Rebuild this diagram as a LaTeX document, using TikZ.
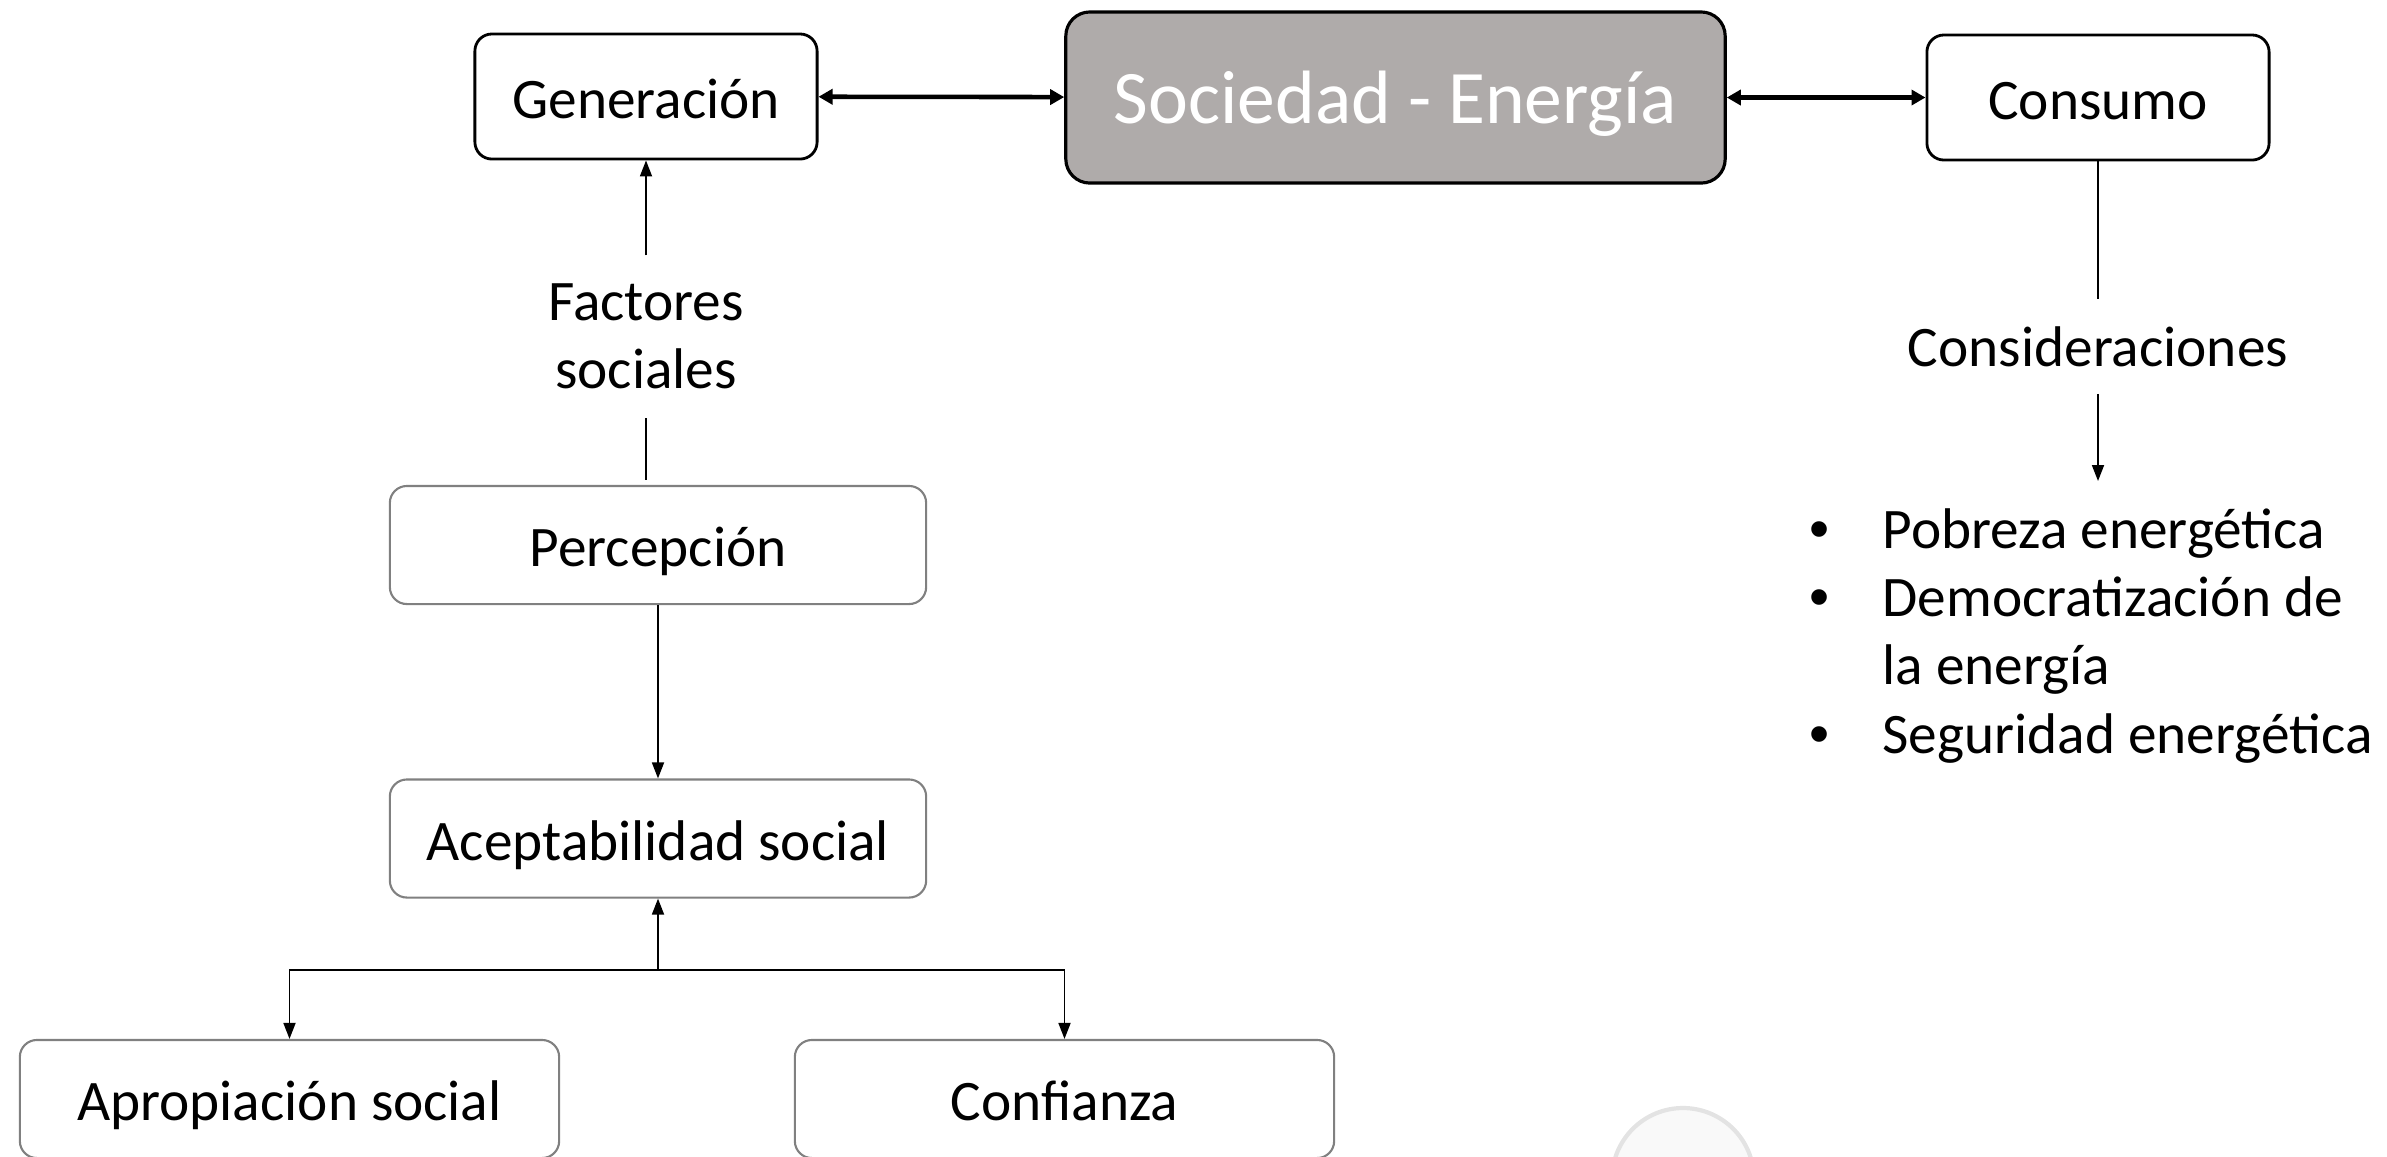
\documentclass[tikz,border=0pt]{standalone}
\usepackage{fontspec}
\setmainfont{Carlito}
\newfontfamily\bulletfont{Liberation Sans}
\usetikzlibrary{arrows.meta}
\definecolor{boxgray}{RGB}{128,128,128}
\definecolor{socgray}{RGB}{175,171,170}
\newcommand{\itembullet}{\makebox[0.73cm][l]{\bulletfont •}}

\begin{document}
\begin{tikzpicture}[x=0.01cm,y=-0.01cm,
  every node/.style={font=\fontsize{16.3}{19.4}\selectfont},
  box/.style={draw, line width=0.8pt, rounded corners=0.17cm, minimum width=3.42cm, minimum height=1.25cm,
    text height=0.45cm, text depth=0.02cm},
  softbox/.style={draw=boxgray, line width=0.6pt, rounded corners=0.17cm, minimum width=5.36cm, minimum height=1.18cm,
    text height=0.45cm, text depth=0.02cm},
  link/.style={line width=0.5pt, -{Triangle[length=0.16cm,width=0.12cm]}},
  biglink/.style={line width=1.3pt, {Triangle[length=0.14cm,width=0.15cm]}-{Triangle[length=0.14cm,width=0.15cm]}}]
\useasboundingbox (0,0) rectangle (2387,1156);

% top row
\node[box] (gen) at (646,96.5) {Generación};
\node[draw, line width=0.9pt, rounded corners=0.24cm, fill=socgray, text=white,
  minimum width=6.59cm, minimum height=1.71cm, text height=0.55cm, text depth=0.03cm,
  font=\fontsize{21.5}{26}\selectfont] (soc) at (1395.5,97.5) {Sociedad - Energía};
\node[box] (cons) at (2098,97.5) {Consumo};

\draw[biglink] (gen) -- (soc);
\draw[biglink] (soc) -- (cons);

% left column
\node[align=center, minimum height=1.61cm] (fact) at (646,336.5) {Factores\\sociales};
\node[softbox] (perc) at (658,545) {Percepción};
\node[softbox] (acep) at (658,838.5) {Aceptabilidad social};
\node[softbox, minimum width=5.39cm] (apro) at (289.5,1099) {Apropiación social};
\node[softbox, minimum width=5.39cm] (conf) at (1064.5,1099) {Confianza};
\coordinate (split) at (658,970);

\draw[link] (fact) -- (gen);
\draw[line width=0.5pt, shorten <=0.05cm] (fact.south |- perc.north) -- (fact.south);
\draw[link] (perc) -- (acep);
\draw[link] (split) -- (acep);
\draw[link] (split) -| (apro);
\draw[link] (split) -| (conf);

% right column
\node[minimum height=0.93cm] (consid) at (2098,346.5) {Consideraciones};
\node[anchor=north, inner xsep=0pt, inner ysep=0.19cm] (list) at (2091,481) {%
  \begin{tabular}{@{}l@{}}
  \itembullet Pobreza energética\\
  \itembullet Democratización de\\
  \hspace*{0.73cm}la energía\\
  \itembullet Seguridad energética
  \end{tabular}};

\draw[line width=0.5pt] (cons) -- (consid);
\draw[link] (consid) -- (consid |- list.north);

% faint round mark at the bottom
\draw[gray!22, line width=1.2pt, fill=gray!5] (1683,1179) circle (71);
\end{tikzpicture}
\end{document}
